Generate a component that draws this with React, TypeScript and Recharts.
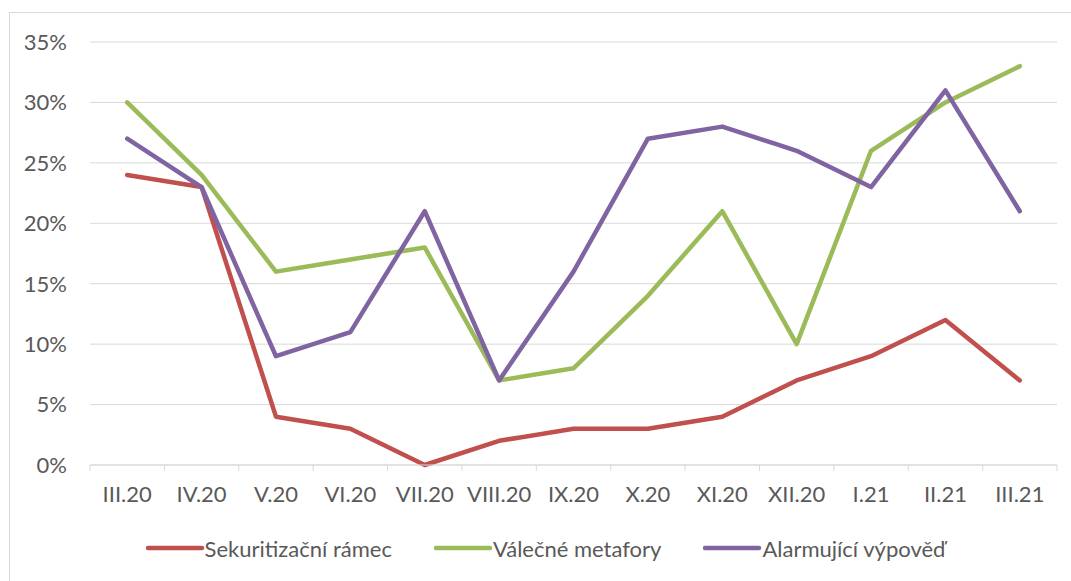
import React from 'react';
import { LineChart, Line, XAxis, YAxis, CartesianGrid } from 'recharts';

const categories = ['III.20', 'IV.20', 'V.20', 'VI.20', 'VII.20', 'VIII.20', 'IX.20', 'X.20', 'XI.20', 'XII.20', 'I.21', 'II.21', 'III.21'];
const sekuritizace = [24, 23, 4, 3, 0, 2, 3, 3, 4, 7, 9, 12, 7];
const metafory = [30, 24, 16, 17, 18, 7, 8, 14, 21, 10, 26, 30, 33];
const alarmujici = [27, 23, 9, 11, 21, 7, 16, 27, 28, 26, 23, 31, 21];
const yTicks = [0, 5, 10, 15, 20, 25, 30, 35];

const series = [
  { key: 'sek', name: 'Sekuritizační rámec', color: '#C0504D', values: sekuritizace },
  { key: 'val', name: 'Válečné metafory', color: '#9BBB59', values: metafory },
  { key: 'ala', name: 'Alarmující výpověď', color: '#8064A2', values: alarmujici },
];

const data = categories.map((c, i) => {
  const row: any = { cat: c, pos: i + 0.5 };
  series.forEach((s) => (row[s.key] = s.values[i]));
  return row;
});

const xTicks: number[] = [];
for (let i = 0; i <= categories.length * 2; i++) xTicks.push(i / 2);

const FONT = 'Lato, "Open Sans", sans-serif';
const TEXT = '#595959';
const GRID = '#d9d9d9';

const XTick = (props: any) => {
  const { x, y, payload } = props;
  const v = payload.value as number;
  if (Number.isInteger(v)) {
    return <line x1={x} y1={y} x2={x} y2={y + 6} stroke={GRID} strokeWidth={1} />;
  }
  const label = categories[Math.floor(v)];
  return (
    <text x={x} y={y + 31} textAnchor="middle" dominantBaseline="middle" fill={TEXT} fontSize={22} fontFamily={FONT}>
      {label}
    </text>
  );
};

export default function App() {
  return (
    <div
      style={{
        position: 'fixed',
        left: 9,
        top: 12,
        width: 1062,
        height: 569,
        borderLeft: `1px solid ${GRID}`,
        borderTop: `1px solid ${GRID}`,
        background: '#fff',
        overflow: 'hidden',
      }}
    >
      <LineChart width={1061} height={568} data={data} margin={{ top: 29, right: 14, left: 20, bottom: 76 }}>
        <CartesianGrid vertical={false} stroke={GRID} strokeWidth={1} />
        <XAxis
          dataKey="pos"
          type="number"
          domain={[0, categories.length]}
          ticks={xTicks}
          interval={0}
          tick={<XTick />}
          tickLine={false}
          tickSize={0}
          tickMargin={0}
          axisLine={{ stroke: GRID, strokeWidth: 1 }}
          height={40}
          allowDecimals
        />
        <YAxis
          domain={[0, 35]}
          ticks={yTicks}
          interval={0}
          tickFormatter={(v: number) => `${v}%`}
          tick={{ fill: TEXT, fontSize: 22, fontFamily: FONT }}
          tickLine={false}
          axisLine={false}
          tickSize={0}
          tickMargin={23}
          width={60}
        />
        {series.map((s) => (
          <Line
            key={s.key}
            dataKey={s.key}
            name={s.name}
            stroke={s.color}
            strokeWidth={4.5}
            strokeLinejoin="round"
            strokeLinecap="round"
            dot={false}
            activeDot={false}
            isAnimationActive={false}
          />
        ))}
      </LineChart>
      <div
        style={{
          position: 'absolute',
          left: 9,
          right: 0,
          top: 522,
          height: 26,
          display: 'flex',
          justifyContent: 'center',
          alignItems: 'center',
          gap: 42,
          fontFamily: FONT,
          fontSize: 22,
          color: TEXT,
        }}
      >
        {series.map((s) => (
          <div key={s.key} style={{ display: 'flex', alignItems: 'center' }}>
            <svg width={59} height={10} style={{ display: 'block' }}>
              <line x1={2} y1={5} x2={56} y2={5} stroke={s.color} strokeWidth={4.5} strokeLinecap="round" />
            </svg>
            <span style={{ whiteSpace: 'nowrap' }}>{s.name}</span>
          </div>
        ))}
      </div>
    </div>
  );
}
